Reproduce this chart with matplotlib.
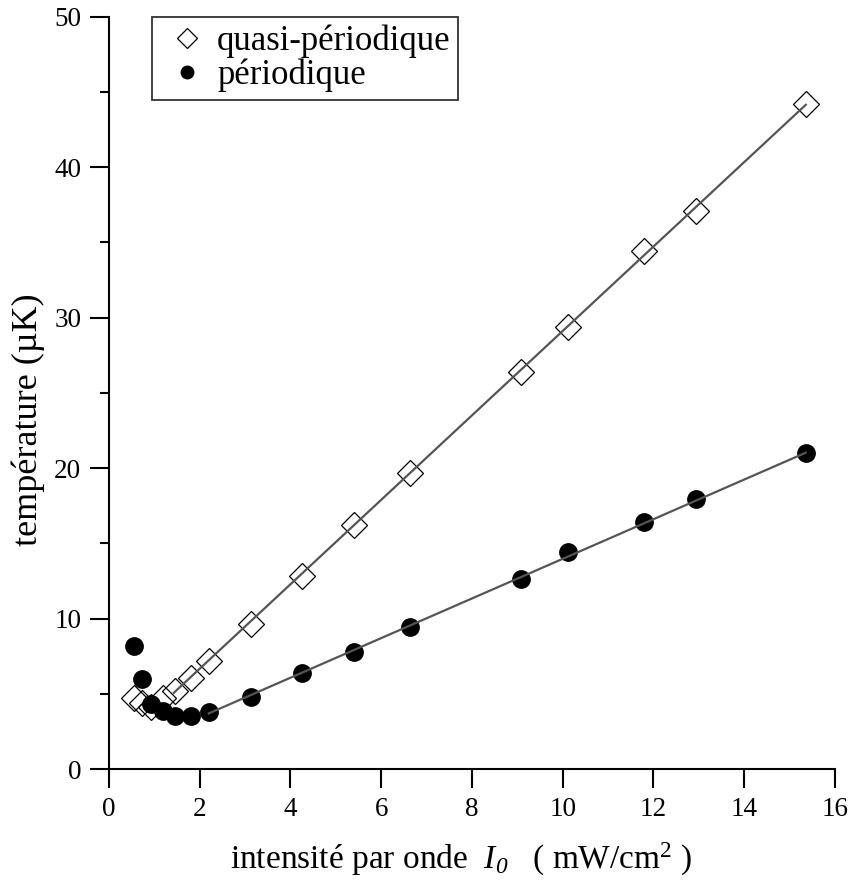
import numpy as np
import matplotlib
matplotlib.use('Agg')
import matplotlib.pyplot as plt
from matplotlib.ticker import MultipleLocator

plt.rcParams['font.family'] = ['Liberation Serif', 'DejaVu Serif']
plt.rcParams['mathtext.fontset'] = 'custom'
# digits in math go to the "rm" font: make it italic so the subscript 0 is slanted
plt.rcParams['mathtext.rm'] = 'Liberation Serif:italic'
plt.rcParams['mathtext.it'] = 'Liberation Serif:italic'

# intensite par onde (mW/cm2)
intensite = [0.55, 0.72, 0.92, 1.19, 1.46, 1.80, 2.20, 3.13, 4.26, 5.40,
             6.63, 9.08, 10.12, 11.80, 12.93, 15.36]

# temperature (uK)
quasi_periodique = [4.74, 4.41, 4.14, 4.74, 5.19, 6.03, 7.18, 9.62, 12.83,
                    16.2, 19.7, 26.4, 29.37, 34.46, 37.12, 44.18]
periodique = [8.20, 5.96, 4.32, 3.88, 3.52, 3.52, 3.81, 4.81, 6.40,
              7.80, 9.46, 12.63, 14.41, 16.44, 17.95, 21.03]

# droites d'ajustement (extremites)
fit_quasi_x = [1.43, 15.36]
fit_quasi_y = [5.07, 44.15]
fit_per_x = [2.20, 15.36]
fit_per_y = [3.70, 21.03]

fig = plt.figure(figsize=(8.51, 8.83), dpi=100)
ax = fig.add_axes([0.128, 0.129, 0.853, 0.852])

ax.plot(intensite, quasi_periodique, linestyle='none', marker='D', markersize=13.5,
        markerfacecolor='none', markeredgecolor='black', markeredgewidth=0.9,
        label='quasi-périodique', zorder=2)
ax.plot(intensite, periodique, linestyle='none', marker='o', markersize=12.5,
        markerfacecolor='black', markeredgecolor='black',
        label='périodique', zorder=2)
ax.plot(fit_quasi_x, fit_quasi_y, color='#555555', linewidth=1.6, zorder=3)
ax.plot(fit_per_x, fit_per_y, color='#555555', linewidth=1.6, zorder=3)

ax.set_xlim(0, 16)
ax.set_ylim(0, 50)
ax.xaxis.set_major_locator(MultipleLocator(2))
ax.yaxis.set_major_locator(MultipleLocator(10))
ax.yaxis.set_minor_locator(MultipleLocator(5))

for side in ['top', 'right']:
    ax.spines[side].set_visible(False)
for side in ['left', 'bottom']:
    ax.spines[side].set_linewidth(1.5)

ax.tick_params(which='major', direction='out', length=13.5, width=1.5,
               labelsize=19.5, pad=6.5)
ax.tick_params(which='minor', direction='out', length=6.5, width=1.5)

ax.set_xlabel(r'intensité par onde  $I_0$   ( mW/cm$^{\mathregular{2}}$ )', fontsize=24)
ax.set_ylabel('température (µK)', fontsize=26)
ax.xaxis.set_label_coords(0.485, -0.095)
ax.yaxis.set_label_coords(-0.088, 0.465)

leg = ax.legend(loc='upper left', bbox_to_anchor=(0.059, 1.0), fontsize=25,
                frameon=True, fancybox=False, borderpad=0.22, labelspacing=0.02,
                handletextpad=0.08, handlelength=1.58, borderaxespad=0,
                markerscale=0.72)
leg.get_frame().set_edgecolor('black')
leg.get_frame().set_linewidth(1.3)

fig.savefig('out.png', dpi=100)
